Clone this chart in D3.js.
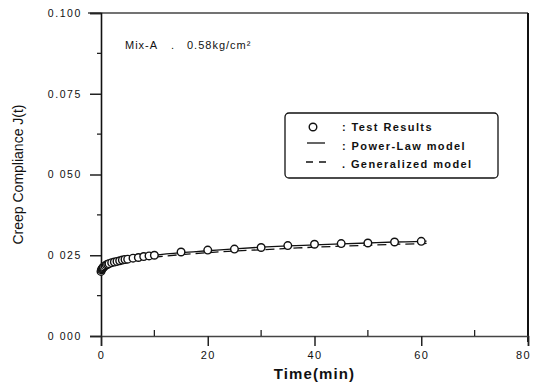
<!DOCTYPE html>
<html>
<head>
<meta charset="utf-8">
<script src="https://cdn.jsdelivr.net/npm/d3@7"></script>
<style>
  body { margin: 0; background: #fff; }
  svg { display: block; font-family: "Liberation Sans", Arial, sans-serif; }
</style>
</head>
<body>
<svg id="chart" width="534" height="387"></svg>
<script>
// test results (time in min, creep compliance)
var testTime = [0, 0.1, 0.2, 0.3, 0.4, 0.5, 0.75, 1, 1.25, 1.5, 2, 2.5, 3, 3.5, 4, 4.5, 5, 6, 7, 8, 9, 10, 15, 20, 25, 30, 35, 40, 45, 50, 55, 60];
var testJ = [0.0200, 0.0205, 0.0208, 0.0210, 0.0212, 0.0214, 0.0217, 0.0220, 0.0222, 0.0224, 0.0227, 0.0229, 0.0231, 0.0233, 0.0235, 0.0237, 0.0238, 0.0241, 0.0243, 0.0246, 0.0248, 0.0250, 0.0260, 0.0266, 0.0269, 0.0274, 0.0280, 0.0284, 0.0286, 0.0288, 0.0291, 0.0293];

// model curves
var modelTime = [0, 0.25, 0.5, 1, 2, 3, 4, 5, 6, 8, 10, 15, 20, 25, 30, 35, 40, 45, 50, 55, 60, 61];
var powerLawJ = [0.0200, 0.0210, 0.0215, 0.0221, 0.0228, 0.0233, 0.0236, 0.0239, 0.0242, 0.0246, 0.0250, 0.0258, 0.0264, 0.0270, 0.0275, 0.0279, 0.0282, 0.0285, 0.0288, 0.0291, 0.0293, 0.0294];
var generalJ  = [0.0200, 0.0207, 0.0211, 0.0216, 0.0222, 0.0227, 0.0230, 0.0233, 0.0236, 0.0240, 0.0244, 0.0252, 0.0258, 0.0263, 0.0267, 0.0271, 0.0275, 0.0278, 0.0281, 0.0284, 0.0286, 0.0287];

var xMajor = [0, 20, 40, 60, 80];
var xMinor = [10, 30, 50, 70];
var yMajor = [0, 0.025, 0.05, 0.075, 0.1];
var yMinor = [0.0125, 0.0375, 0.0625, 0.0875];
var yTickText = ["0 000", "0 025", "0 050", "0.075", "0.100"];

var svg = d3.select("#chart");
var x = d3.scaleLinear().domain([0, 80]).range([101, 528]);
var y = d3.scaleLinear().domain([0, 0.1]).range([336, 13]);

// frame
svg.append("line").attr("x1", 88).attr("x2", 528).attr("y1", y(0.1)).attr("y2", y(0.1))
  .attr("stroke", "#444").attr("stroke-width", 1.4);
svg.append("line").attr("x1", x(80)).attr("x2", x(80)).attr("y1", y(0.1)).attr("y2", 342)
  .attr("stroke", "#111").attr("stroke-width", 2);

// y axis
var yAxis = d3.axisLeft(y).tickValues(yMajor).tickSize(11).tickPadding(8)
  .tickFormat(function(d, i) { return yTickText[i]; });
var gy = svg.append("g").attr("transform", "translate(" + x(0) + ",0)").call(yAxis);
gy.select(".domain").attr("stroke", "#111").attr("stroke-width", 1.6);
gy.selectAll(".tick line").attr("stroke", "#222").attr("stroke-width", 1.5);
gy.selectAll("text").attr("font-size", 10.5).attr("letter-spacing", 1.6).attr("fill", "#111");
svg.append("g").selectAll("line").data(yMinor).enter().append("line")
  .attr("x1", x(0) - 4).attr("x2", x(0)).attr("y1", function(d) { return y(d); }).attr("y2", function(d) { return y(d); })
  .attr("stroke", "#222").attr("stroke-width", 1.3);

// x axis
var xAxis = d3.axisBottom(x).tickValues(xMajor).tickSize(10).tickPadding(5).tickFormat(d3.format("d"));
var gx = svg.append("g").attr("transform", "translate(0," + y(0) + ")").call(xAxis);
gx.select(".domain").attr("stroke", "#444").attr("stroke-width", 1.5);
gx.selectAll(".tick line").attr("stroke", "#222").attr("stroke-width", 1.5);
gx.selectAll("text").attr("font-size", 11).attr("letter-spacing", 1.5).attr("fill", "#111")
  .attr("dx", function(d) { return d === 80 ? -5 : 0; });
svg.append("g").selectAll("line").data(xMinor).enter().append("line")
  .attr("x1", function(d) { return x(d); }).attr("x2", function(d) { return x(d); })
  .attr("y1", y(0) - 6).attr("y2", y(0))
  .attr("stroke", "#222").attr("stroke-width", 1.3);

// axis titles
svg.append("text").attr("x", (x(0) + x(80)) / 2).attr("y", 379).attr("text-anchor", "middle")
  .attr("font-size", 15).attr("font-weight", "bold").attr("letter-spacing", 1.1).attr("fill", "#111")
  .text("Time(min)");
svg.append("text").attr("transform", "translate(23," + ((y(0) + y(0.1)) / 2) + ") rotate(-90)")
  .attr("text-anchor", "middle").attr("font-size", 14).attr("fill", "#111")
  .text("Creep Compliance J(t)");

// annotation
var note = svg.append("text").attr("y", 49).attr("font-size", 11).attr("letter-spacing", 1).attr("fill", "#111");
note.append("tspan").attr("x", 125).text("Mix-A");
note.append("tspan").attr("x", 171).text(".");
note.append("tspan").attr("x", 187).text("0.58kg/cm\u00b2");

// model lines
var line = function(vals) {
  return d3.line().x(function(d, i) { return x(modelTime[i]); }).y(function(d) { return y(d); })
    .curve(d3.curveMonotoneX)(vals);
};
svg.append("path").attr("d", line(powerLawJ)).attr("fill", "none").attr("stroke", "#111").attr("stroke-width", 1.3);
svg.append("path").attr("d", line(generalJ)).attr("fill", "none").attr("stroke", "#111").attr("stroke-width", 1.3)
  .attr("stroke-dasharray", "9,5");

// test points
svg.append("g").selectAll("circle").data(testJ).enter().append("circle")
  .attr("cx", function(d, i) { return x(testTime[i]); })
  .attr("cy", function(d) { return y(d); })
  .attr("r", 3.8).attr("fill", "#fff").attr("stroke", "#111").attr("stroke-width", 1.4);

// legend
var lg = svg.append("g");
lg.append("rect").attr("x", 285).attr("y", 113).attr("width", 213).attr("height", 65).attr("rx", 4)
  .attr("fill", "#fff").attr("stroke", "#111").attr("stroke-width", 1.3);
lg.append("circle").attr("cx", 313).attr("cy", 127).attr("r", 3.8).attr("fill", "#fff").attr("stroke", "#111").attr("stroke-width", 1.4);
lg.append("line").attr("x1", 307).attr("x2", 325).attr("y1", 143).attr("y2", 143).attr("stroke", "#111").attr("stroke-width", 1.3);
lg.append("line").attr("x1", 306).attr("x2", 326).attr("y1", 162).attr("y2", 162).attr("stroke", "#111").attr("stroke-width", 1.3)
  .attr("stroke-dasharray", "7,6");
var legendText = [": Test Results", ": Power-Law  model", ". Generalized model"];
lg.selectAll("text.lt").data(legendText).enter().append("text").attr("class", "lt")
  .attr("x", 342).attr("y", function(d, i) { return 131 + i * 18.5; })
  .attr("font-size", 11).attr("font-weight", "bold").attr("letter-spacing", 1.4).attr("fill", "#111")
  .text(function(d) { return d; });
</script>
</body>
</html>
